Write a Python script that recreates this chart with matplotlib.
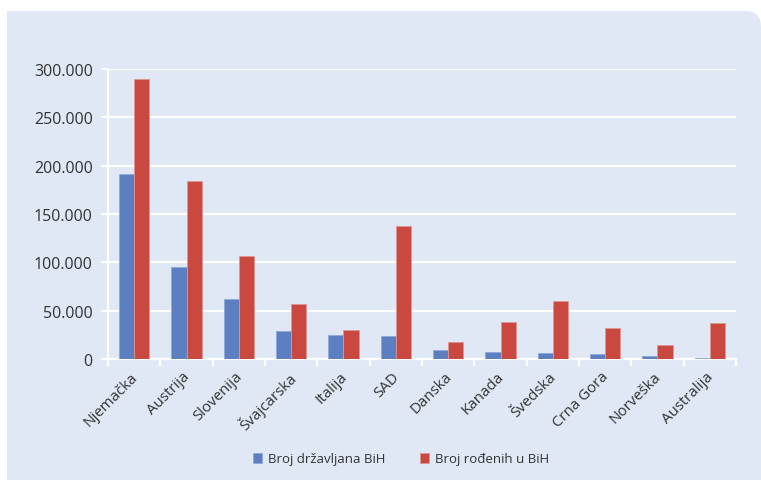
import numpy as np
import matplotlib.pyplot as plt
from matplotlib.patches import FancyBboxPatch, Rectangle
from matplotlib.transforms import IdentityTransform, ScaledTranslation
from matplotlib.ticker import FuncFormatter

countries = ['Njemačka', 'Austrija', 'Slovenija', 'Švajcarska', 'Italija', 'SAD',
             'Danska', 'Kanada', 'Švedska', 'Crna Gora', 'Norveška', 'Australija']
citizens = [191000, 95500, 62300, 29000, 25000, 23500, 9300, 7300, 5900, 4900, 3100, 800]
born = [289600, 183700, 107000, 57000, 30000, 137700, 18000, 38000, 59500, 31800, 14500, 37700]
series_names = ['Broj državljana BiH', 'Broj rođenih u BiH']

plt.rcParams['font.family'] = ['Open Sans', 'DejaVu Sans']
bg = '#dfe8f4'
blue = '#5b7fc0'
red = '#c9483f'
txt = '#333333'

fig = plt.figure(figsize=(7.61, 4.81), dpi=100)
fig.patch.set_facecolor('white')

# panel background with rounded top-right corner (pixel coords)
panel = FancyBboxPatch((7, -40), 754, 469 + 40, boxstyle='round,pad=0,rounding_size=16',
                       transform=IdentityTransform(), facecolor=bg, edgecolor='none', zorder=-2)
fig.patches.append(panel)
fig.patches.append(Rectangle((7, 400), 60, 69, transform=IdentityTransform(),
                             facecolor=bg, edgecolor='none', zorder=-2))

ax = fig.add_axes([108 / 761, 121 / 481, 628 / 761, 290 / 481])
ax.set_facecolor('none')

x = np.arange(len(countries))
w = 0.29
ax.bar(x - w / 2, citizens, w, color=blue, edgecolor='#8fa8d6', linewidth=0.6, zorder=3,
       label=series_names[0])
ax.bar(x + w / 2, born, w, color=red, edgecolor='#e09590', linewidth=0.6, zorder=3,
       label=series_names[1])

ax.set_xlim(-0.5, len(countries) - 0.5)
ax.set_ylim(0, 300000)
ax.set_yticks(np.arange(0, 300001, 50000))
ax.yaxis.set_major_formatter(FuncFormatter(lambda v, p: f'{int(v):,}'.replace(',', '.')))
ax.grid(axis='y', color='white', linewidth=1.6, zorder=1)
ax.set_axisbelow(True)

for s in ['top', 'right']:
    ax.spines[s].set_visible(False)
for s in ['left', 'bottom']:
    ax.spines[s].set_color('white')
    ax.spines[s].set_linewidth(1.6)

ax.set_xticks(x)
ax.set_xticklabels(countries, rotation=45, ha='right', rotation_mode='anchor')
ax.set_xticks(np.arange(-0.5, len(countries)), minor=True)
ax.tick_params(axis='x', which='major', length=0, labelsize=10.8, colors=txt, pad=7)
ax.tick_params(axis='x', which='minor', length=5, width=1.6, color='white')
ax.tick_params(axis='y', length=5, width=1.6, color='white', labelsize=11.5, labelcolor=txt, pad=6)
shift = ScaledTranslation(-4 / 100, 0, fig.dpi_scale_trans)
for lbl in ax.get_xticklabels():
    lbl.set_transform(lbl.get_transform() + shift)

fig.legend(loc='center', bbox_to_anchor=(401 / 761, 1 - 460 / 481), ncol=2, frameon=False,
           fontsize=9.5, handlelength=0.7, handleheight=0.7, handletextpad=0.45,
           columnspacing=2.6, labelcolor=txt)

fig.savefig('out.png', dpi=100)
